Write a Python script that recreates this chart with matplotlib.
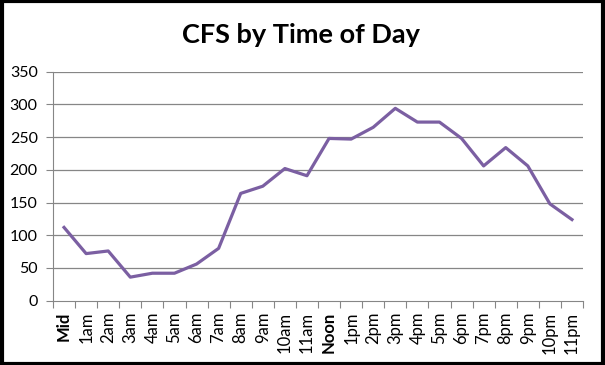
import numpy as np
import matplotlib.pyplot as plt
from matplotlib.patches import Rectangle

plt.rcParams['font.family'] = ['Lato', 'DejaVu Sans']

# data
hours = ['Mid', '1am', '2am', '3am', '4am', '5am', '6am', '7am', '8am', '9am',
         '10am', '11am', 'Noon', '1pm', '2pm', '3pm', '4pm', '5pm', '6pm', '7pm',
         '8pm', '9pm', '10pm', '11pm']
cfs = [112, 72, 76, 36, 42, 42, 56, 80, 164, 175,
       202, 191, 248, 247, 265, 294, 273, 273, 248, 206,
       234, 206, 148, 124]
yticks = [0, 50, 100, 150, 200, 250, 300, 350]

fig = plt.figure(figsize=(6.05, 3.65), dpi=100)
ax = fig.add_axes([53 / 605, 1 - 300.7 / 365, 530 / 605, 229 / 365])

x = np.arange(len(hours))
ax.plot(x, cfs, color='#7B5FA2', linewidth=2.3, solid_joinstyle='round')

ax.set_xlim(-0.5, len(hours) - 0.5)
ax.set_ylim(0, 350)
ax.set_yticks(yticks)
ax.set_yticklabels([str(v) for v in yticks], fontsize=11.5)
for v in yticks[1:]:
    ax.axhline(v, color='#868686', linewidth=0.9, zorder=0)

# categories sit between the tick marks
ax.set_xticks(np.arange(len(hours) + 1) - 0.5)
ax.set_xticklabels([])
ax.set_xticks(x, minor=True)
ax.set_xticklabels(hours, minor=True, rotation=90, fontsize=12)
for lab in ax.get_xticklabels(minor=True):
    if lab.get_text() in ('Mid', 'Noon'):
        lab.set_fontweight('bold')
ax.tick_params(axis='x', which='minor', length=0, pad=8)
ax.tick_params(axis='x', which='major', length=5, color='#868686', direction='out')
ax.tick_params(axis='y', length=5, color='#868686', pad=6)

for s in ['top', 'right']:
    ax.spines[s].set_visible(False)
ax.spines['left'].set_color('#868686')
ax.spines['bottom'].set_color('#868686')

fig.text(0.497, 1 - 35 / 365, 'CFS by Time of Day', ha='center', va='center',
         fontsize=19.5, fontweight='bold')

fig.patches.append(Rectangle((0.003, 0.004), 0.994, 0.992, transform=fig.transFigure,
                             fill=False, edgecolor='black', linewidth=3))

fig.savefig('out.png', dpi=100)
